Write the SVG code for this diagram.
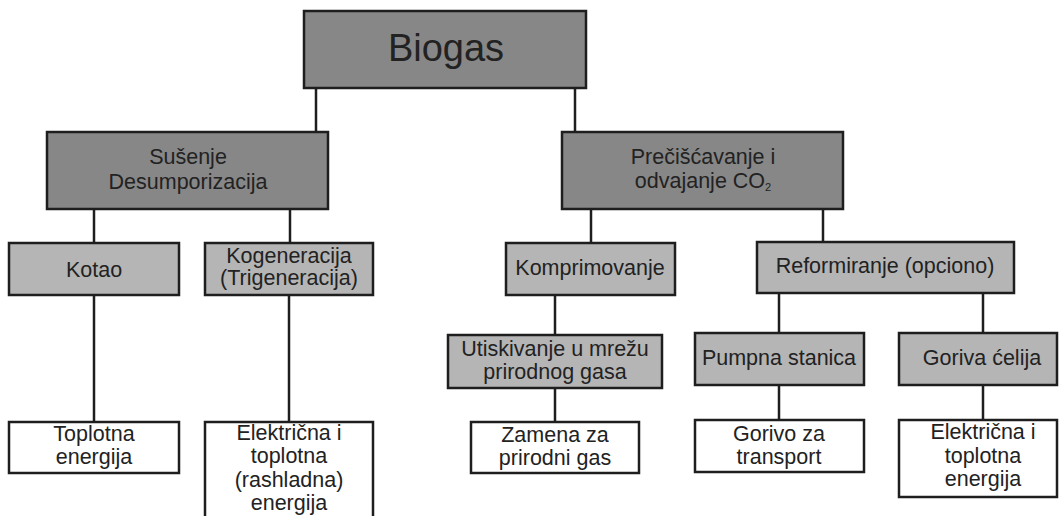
<svg xmlns="http://www.w3.org/2000/svg" width="1060" height="516" viewBox="0 0 1060 516">
<style>
  .dark { fill: #878787; stroke: #1e1e1e; stroke-width: 2.5; }
  .mid { fill: #b5b5b5; stroke: #1e1e1e; stroke-width: 2.5; }
  .light { fill: #ffffff; stroke: #1e1e1e; stroke-width: 2.5; }
  text { font-family: "Liberation Sans", Arial, sans-serif; font-size: 21.5px; fill: #222222; text-anchor: middle; }
  .big { font-size: 38px; }
  .sub { font-size: 11px; }
  #connectors line { stroke: #1e1e1e; stroke-width: 2.5; }
</style>
<rect x="0" y="0" width="1060" height="516" fill="#ffffff"/>
<g id="connectors">
  <line x1="316" y1="88" x2="316" y2="132"/>
  <line x1="575" y1="88" x2="575" y2="132"/>
  <line x1="94" y1="209" x2="94" y2="243"/>
  <line x1="290" y1="209" x2="290" y2="243"/>
  <line x1="94" y1="295" x2="94" y2="422"/>
  <line x1="289" y1="295" x2="289" y2="422"/>
  <line x1="591" y1="209" x2="591" y2="243"/>
  <line x1="823" y1="209" x2="823" y2="242"/>
  <line x1="555" y1="295" x2="555" y2="335"/>
  <line x1="555" y1="388" x2="555" y2="422"/>
  <line x1="779" y1="293" x2="779" y2="333"/>
  <line x1="983" y1="293" x2="983" y2="333"/>
  <line x1="779" y1="385" x2="779" y2="420"/>
  <line x1="983" y1="385" x2="983" y2="420"/>
</g>
<g id="biogas">
  <rect class="dark" x="304" y="11" width="282" height="77"/>
  <text class="big" x="446" y="61">Biogas</text>
</g>
<g id="susenje">
  <rect class="dark" x="47" y="132" width="281" height="77"/>
  <text x="188" y="164">Sušenje</text>
  <text x="188" y="189">Desumporizacija</text>
</g>
<g id="preciscavanje">
  <rect class="dark" x="562" y="132" width="281" height="77"/>
  <text x="703" y="164">Prečišćavanje i</text>
  <text x="703" y="188">odvajanje CO<tspan class="sub" dy="3">2</tspan></text>
</g>
<g id="kotao">
  <rect class="mid" x="9" y="243" width="170" height="52"/>
  <text x="94" y="277">Kotao</text>
</g>
<g id="kogeneracija">
  <rect class="mid" x="205" y="243" width="168" height="52"/>
  <text x="289" y="263">Kogeneracija</text>
  <text x="289" y="285">(Trigeneracija)</text>
</g>
<g id="komprimovanje">
  <rect class="mid" x="506" y="243" width="169" height="52"/>
  <text x="590" y="275">Komprimovanje</text>
</g>
<g id="reformiranje">
  <rect class="mid" x="757" y="242" width="257" height="51"/>
  <text x="885" y="273">Reformiranje (opciono)</text>
</g>
<g id="utiskivanje">
  <rect class="mid" x="448" y="335" width="214" height="53"/>
  <text x="555" y="356">Utiskivanje u mrežu</text>
  <text x="555" y="379">prirodnog gasa</text>
</g>
<g id="pumpna">
  <rect class="mid" x="695" y="333" width="169" height="52"/>
  <text x="779" y="365">Pumpna stanica</text>
</g>
<g id="goriva">
  <rect class="mid" x="899" y="333" width="158" height="52"/>
  <text x="982" y="365">Goriva ćelija</text>
</g>
<g id="toplotna">
  <rect class="light" x="9" y="422" width="170" height="51"/>
  <text x="94" y="441">Toplotna</text>
  <text x="94" y="464">energija</text>
</g>
<g id="elektricna1">
  <rect class="light" x="205" y="422" width="168" height="110"/>
  <text x="289" y="440">Električna i</text>
  <text x="289" y="463">toplotna</text>
  <text x="289" y="487">(rashladna)</text>
  <text x="289" y="510">energija</text>
</g>
<g id="zamena">
  <rect class="light" x="471" y="422" width="168" height="51"/>
  <text x="555" y="442">Zamena za</text>
  <text x="555" y="465">prirodni gas</text>
</g>
<g id="gorivo">
  <rect class="light" x="695" y="420" width="169" height="52"/>
  <text x="779" y="441">Gorivo za</text>
  <text x="779" y="464">transport</text>
</g>
<g id="elektricna2">
  <rect class="light" x="899" y="420" width="158" height="77"/>
  <text x="983" y="439">Električna i</text>
  <text x="983" y="463">toplotna</text>
  <text x="983" y="486">energija</text>
</g>
</svg>
